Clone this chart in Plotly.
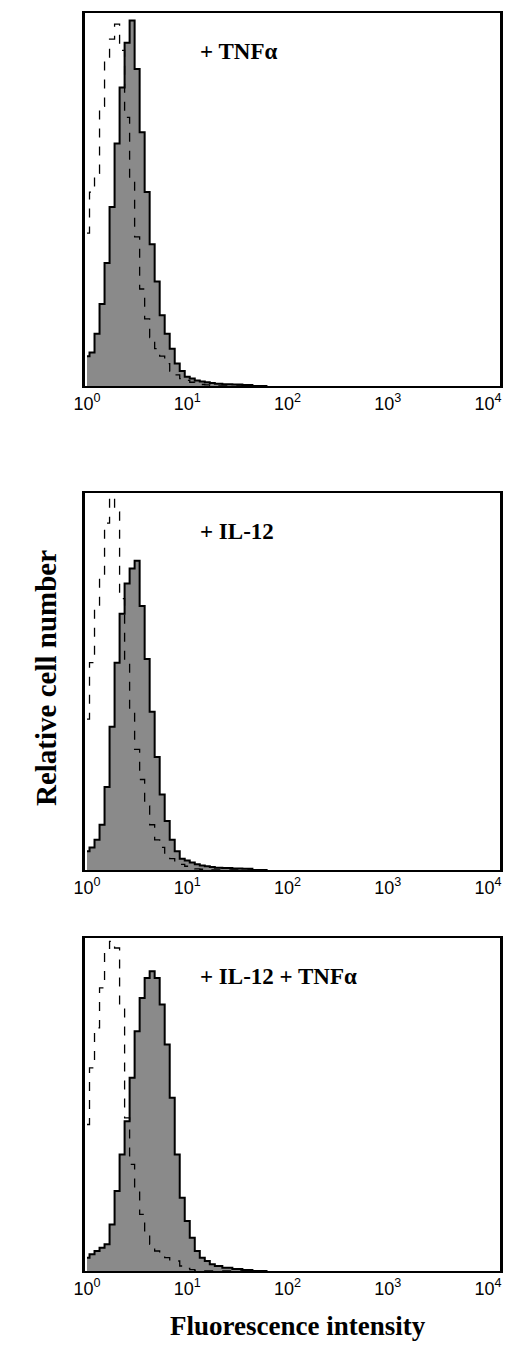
import plotly.graph_objects as go

# bin positions (log10 of fluorescence intensity)
bins_log = [0.00, 0.05, 0.10, 0.15, 0.20, 0.25, 0.30, 0.35, 0.40, 0.45, 0.50, 0.55,
            0.60, 0.65, 0.70, 0.75, 0.80, 0.85, 0.90, 0.95, 1.00, 1.05, 1.10, 1.15,
            1.20, 1.25, 1.30, 1.40, 1.50, 1.60, 1.70, 1.80]

panel_labels = ["+ TNFα", "+ IL-12", "+ IL-12 + TNFα"]

ctrl_tnf = [0.41, 0.52, 0.57, 0.75, 0.88, 0.93, 0.97, 0.90, 0.72, 0.55, 0.40, 0.26,
            0.18, 0.13, 0.10, 0.08, 0.06, 0.04, 0.03, 0.02, 0.015, 0.01, 0.005, 0.004,
            0.003, 0.002, 0.0, 0.0, 0.0, 0.0, 0.0, 0.0]
stim_tnf = [0.08, 0.09, 0.14, 0.22, 0.33, 0.48, 0.65, 0.80, 0.92, 0.98, 0.85, 0.68,
            0.52, 0.38, 0.28, 0.19, 0.14, 0.10, 0.06, 0.04, 0.025, 0.02, 0.015, 0.012,
            0.01, 0.008, 0.006, 0.005, 0.004, 0.003, 0.0, 0.0]

ctrl_il12 = [0.40, 0.55, 0.70, 0.78, 0.92, 0.99, 0.95, 0.72, 0.55, 0.42, 0.32, 0.24,
             0.17, 0.12, 0.08, 0.06, 0.04, 0.03, 0.02, 0.015, 0.01, 0.005, 0.003, 0.002,
             0.0, 0.0, 0.0, 0.0, 0.0, 0.0, 0.0, 0.0]
stim_il12 = [0.05, 0.06, 0.08, 0.12, 0.22, 0.38, 0.55, 0.68, 0.76, 0.80, 0.82, 0.70,
             0.56, 0.42, 0.30, 0.20, 0.13, 0.08, 0.05, 0.03, 0.025, 0.02, 0.015, 0.012,
             0.01, 0.008, 0.006, 0.005, 0.004, 0.003, 0.0, 0.0]

ctrl_both = [0.44, 0.61, 0.73, 0.85, 0.96, 0.99, 0.97, 0.79, 0.46, 0.32, 0.25, 0.17,
             0.11, 0.08, 0.06, 0.05, 0.04, 0.03, 0.03, 0.015, 0.008, 0.004, 0.002, 0.0,
             0.0, 0.0, 0.0, 0.0, 0.0, 0.0, 0.0, 0.0]
stim_both = [0.04, 0.05, 0.06, 0.07, 0.08, 0.14, 0.24, 0.35, 0.45, 0.58, 0.72, 0.82,
             0.88, 0.90, 0.88, 0.80, 0.68, 0.52, 0.35, 0.22, 0.15, 0.10, 0.06, 0.04,
             0.03, 0.02, 0.015, 0.01, 0.006, 0.003, 0.0, 0.0]

controls = [ctrl_tnf, ctrl_il12, ctrl_both]
stimulated = [stim_tnf, stim_il12, stim_both]

tick_vals = [1, 10, 100, 1000, 10000]
tick_text = ["10<sup>0</sup>", "10<sup>1</sup>", "10<sup>2</sup>", "10<sup>3</sup>", "10<sup>4</sup>"]

W, H = 520, 1355
panels_px = [(5, 378), (485, 862), (930, 1263)]
x_dom = [77 / W, 492 / W]

fig = go.Figure()
xs = [10 ** v for v in bins_log]
for i in range(3):
    sfx = "" if i == 0 else str(i + 1)
    fig.add_trace(go.Scatter(x=xs, y=stimulated[i], mode="lines", line=dict(shape="hvh", color="black", width=2),
                             fill="tozeroy", fillcolor="#8a8a8a", xaxis="x" + sfx, yaxis="y" + sfx, showlegend=False))
    fig.add_trace(go.Scatter(x=xs, y=controls[i], mode="lines", line=dict(shape="hvh", color="black", width=1.3, dash="dash"),
                             xaxis="x" + sfx, yaxis="y" + sfx, showlegend=False))
    top, bot = panels_px[i]
    fig.update_layout(**{
        "xaxis" + sfx: dict(type="log", domain=x_dom, range=[-0.02, 4.12], tickvals=tick_vals, ticktext=tick_text,
                            showgrid=False, zeroline=False, showline=True, mirror=True, linecolor="black", linewidth=2,
                            ticks="", tickfont=dict(family="Liberation Sans", size=18, color="black"),
                            ticklabeloverflow="allow", anchor="y" + sfx, automargin=False),
        "yaxis" + sfx: dict(domain=[1 - bot / H, 1 - top / H], range=[0, 1.0], showticklabels=False, showgrid=False,
                            zeroline=False, showline=True, mirror=True, linecolor="black", linewidth=2.5, ticks="",
                            anchor="x" + sfx, automargin=False),
    })
    fig.add_annotation(text="<b>" + panel_labels[i] + "</b>", xref="paper", yref="paper",
                       x=190 / W, xanchor="left", y=1 - (top + 38) / H, yanchor="middle", showarrow=False,
                       font=dict(family="Liberation Serif", size=23, color="black"))

fig.add_annotation(text="<b>Relative cell number</b>", xref="paper", yref="paper", x=20 / W, y=1 - 670 / H,
                   textangle=-90, showarrow=False, font=dict(family="Liberation Serif", size=29, color="black"))
fig.add_annotation(text="<b>Fluorescence intensity</b>", xref="paper", yref="paper", x=290 / W, y=1 - 1335 / H,
                   showarrow=False, font=dict(family="Liberation Serif", size=27, color="black"))

fig.update_layout(width=W, height=H, margin=dict(l=0, r=0, t=0, b=0), paper_bgcolor="white", plot_bgcolor="white")
fig.write_html("out.html")
